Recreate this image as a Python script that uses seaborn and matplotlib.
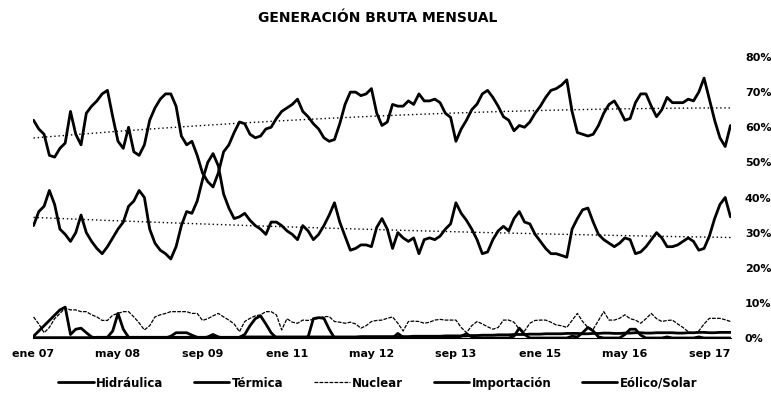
import numpy as np
import pandas as pd
import matplotlib.pyplot as plt
import seaborn as sns

# monthly share of gross generation (%), ene 07 .. ene 18
hidraulica = [62, 59.5, 58, 52, 51.5, 54, 55.5, 64.5, 58, 55, 64, 66,
              67.5, 69.5, 70.5, 63, 56, 54, 60, 53, 52, 55, 62, 65.5,
              68, 69.5, 69.5, 66, 57.5, 55, 56, 52, 47, 44.5, 43, 47,
              53, 55, 58.5, 61.5, 61, 58, 57, 57.5, 59.5, 60, 62.5, 64.5,
              65.5, 66.5, 68, 64.5, 63, 61, 59.5, 57, 56, 56.5, 61, 66.5,
              70, 70, 69, 69.5, 71, 64, 60.5, 61.5, 66.5, 66, 66, 67.5,
              66.5, 69.5, 67.5, 67.5, 68, 67, 64, 62.8, 56, 59.5, 62, 65,
              66.6, 69.5, 70.5, 68.5, 66, 63, 62, 59, 60.5, 60, 61.5, 64,
              66, 68.5, 70.5, 71, 72, 73.5, 64.5, 58.5, 58, 57.5, 58, 60.5,
              64, 66.5, 67.5, 65, 62, 62.5, 67, 69.5, 69.5, 66, 63, 65,
              68.5, 67, 67, 67, 68, 67.5, 70, 74, 68, 62, 57, 54.5,
              60.5]
termica = [32, 36, 37.5, 42, 38, 31, 29.5, 27.5, 30, 35, 30, 27.5,
           25.5, 24, 26, 28.5, 31, 33, 37.5, 39, 42, 40, 31, 27,
           25, 24, 22.5, 26, 32, 36, 35.5, 39, 45, 50, 52.5, 49,
           41, 37, 34, 34.5, 35.5, 33.5, 32, 31, 29.5, 33, 33, 32,
           30.5, 29.5, 28, 32, 30.5, 28, 29.5, 32, 35, 38.5, 33, 29,
           25, 25.5, 26.5, 26.5, 26, 31.5, 34, 31, 25.5, 30, 28.5, 27.5,
           28.5, 24, 28, 28.5, 28, 29, 31, 32.5, 38.5, 35.5, 33.5, 31,
           28, 24, 24.5, 28, 30.5, 31.8, 30.5, 34, 36, 33, 32.5, 29.5,
           27.5, 25.5, 24, 24, 23.5, 23, 31, 34, 36.5, 37, 33, 29.5,
           28, 27, 26, 27, 28.5, 28, 24, 24.5, 26, 28, 30, 28.5,
           26, 26, 26.5, 27.5, 28.5, 27.5, 25, 25.5, 29, 34, 38, 40,
           34.5]
nuclear = [6, 4, 1.5, 3, 5.5, 7, 8.5, 8, 8, 7.5, 7.5, 6.6,
           6, 5, 5, 6.5, 7, 7.5, 7.5, 6, 4.3, 2.3, 3.5, 6,
           6.6, 7, 7.5, 7.5, 7.5, 7.5, 7, 7, 5, 5.5, 6.3, 7,
           6, 5.1, 4, 1.8, 4.7, 5.6, 6.3, 6.6, 7.5, 7.5, 6.6, 2.3,
           5.5, 4.5, 4.2, 5.1, 5, 5.3, 5.6, 6.1, 6.1, 4.7, 4.5, 4.2,
           4.5, 4, 2.8, 3.5, 4.7, 5, 5.1, 5.6, 6, 4.2, 2, 4.7,
           4.8, 4.7, 4.2, 4.5, 5.1, 5.3, 5.1, 5.1, 5.1, 3, 1.5, 3.5,
           4.7, 4, 3.2, 2.5, 3, 5.1, 5.1, 4.5, 2.5, 2, 4.2, 5,
           5.1, 5.1, 4.5, 3.7, 3.5, 3, 5, 7, 4.7, 3, 2.5, 5,
           7.5, 5.1, 5.1, 5.6, 6.6, 5.5, 5.1, 4.2, 5.5, 7, 5.5, 4.7,
           5, 5.1, 4, 3, 1.8, 1.2, 2, 4, 5.6, 5.6, 5.6, 5.2,
           4.7]
importacion = [0.5, 2, 3.5, 5, 6.5, 8, 8.8, 1, 2.5, 2.8, 1.5, 0.3,
               0, 0, 0.2, 2, 7, 2.5, 0.2, 0, 0, 0, 0, 0,
               0, 0, 0.5, 1.5, 1.5, 1.5, 0.8, 0.2, 0, 0.3, 1, 0.3,
               0, 0, 0, 0.2, 1, 3.5, 5.5, 6.3, 4, 1.5, 0, 0,
               0, 0, 0, 0, 0.3, 5.5, 5.8, 5.6, 2.5, 0, 0, 0,
               0, 0, 0, 0, 0, 0, 0, 0, 0, 1.3, 0.2, 0,
               0, 0, 0, 0, 0, 0, 0, 0, 0, 0.5, 1.2, 0.3,
               0, 0, 0, 0, 0, 0, 0, 0.5, 2.8, 1, 0, 0,
               0, 0, 0, 0, 0, 0, 0.5, 0.3, 1.5, 3, 2, 0.3,
               0, 0, 0, 0, 1, 2.5, 2.5, 0.8, 0, 0, 0, 0,
               0.3, 0, 0, 0, 0, 0, 0.3, 0, 0, 0, 0, 0,
               0]
eolico_solar = [0.1, 0.1, 0.1, 0.1, 0.1, 0.1, 0.1, 0.1, 0.1, 0.1, 0.1, 0.1,
                0.2, 0.2, 0.2, 0.2, 0.2, 0.2, 0.2, 0.2, 0.2, 0.2, 0.2, 0.2,
                0.2, 0.2, 0.2, 0.2, 0.2, 0.2, 0.2, 0.2, 0.2, 0.2, 0.2, 0.2,
                0.2, 0.2, 0.2, 0.2, 0.3, 0.3, 0.3, 0.3, 0.3, 0.3, 0.3, 0.3,
                0.3, 0.3, 0.3, 0.3, 0.3, 0.3, 0.3, 0.3, 0.3, 0.3, 0.3, 0.3,
                0.3, 0.3, 0.4, 0.4, 0.4, 0.4, 0.4, 0.4, 0.4, 0.4, 0.4, 0.4,
                0.5, 0.5, 0.5, 0.5, 0.5, 0.5, 0.6, 0.6, 0.6, 0.6, 0.6, 0.7,
                0.7, 0.8, 0.8, 0.8, 0.9, 0.9, 0.9, 1.0, 1.0, 1.0, 1.1, 1.1,
                1.1, 1.2, 1.2, 1.2, 1.2, 1.3, 1.3, 1.3, 1.2, 1.2, 1.3, 1.3,
                1.4, 1.4, 1.3, 1.3, 1.4, 1.4, 1.5, 1.5, 1.4, 1.4, 1.5, 1.5,
                1.5, 1.5, 1.4, 1.4, 1.5, 1.5, 1.6, 1.6, 1.5, 1.5, 1.6, 1.6,
                1.6]

tick_labels = ['ene 07', 'may 08', 'sep 09', 'ene 11', 'may 12',
               'sep 13', 'ene 15', 'may 16', 'sep 17']
ytick_values = [0, 10, 20, 30, 40, 50, 60, 70, 80]

series = {
    'Hidráulica': hidraulica,
    'Térmica': termica,
    'Nuclear': nuclear,
    'Importación': importacion,
    'Eólico/Solar': eolico_solar,
}
idx = np.arange(len(hidraulica))
df = pd.DataFrame(series)
df['mes'] = idx

sns.set_style('white')
plt.rcParams['font.family'] = ['Liberation Sans Narrow', 'DejaVu Sans']
plt.rcParams['font.weight'] = 'bold'
plt.rcParams['text.color'] = 'black'
plt.rcParams['xtick.color'] = 'black'
plt.rcParams['ytick.color'] = 'black'

fig = plt.figure(figsize=(7.71, 4.05), dpi=100)
ax = fig.add_axes([33 / 771, 67 / 405, 698 / 771, 281 / 405])

for name in series:
    if name == 'Nuclear':
        sns.lineplot(data=df, x='mes', y=name, ax=ax, color='black', lw=0.9,
                     linestyle=(0, (3, 1)), label=name)
    else:
        sns.lineplot(data=df, x='mes', y=name, ax=ax, color='black', lw=2.0,
                     label=name)

# polynomial (order 2) trend lines for hydro and thermal
for name in ['Hidráulica', 'Térmica']:
    coef = np.polyfit(idx, df[name], 2)
    sns.lineplot(x=idx, y=np.polyval(coef, idx), ax=ax, color='black',
                 lw=1.0, linestyle=(0, (1, 2)), legend=False)

ax.set_xlim(-0.1, len(idx) - 0.9)
ax.set_ylim(0, 80)
ax.set_xticks(idx[::16][:len(tick_labels)])
ax.set_xticklabels(tick_labels)
ax.yaxis.tick_right()
ax.set_yticks(ytick_values)
ax.set_yticklabels([f'{v}%' for v in ytick_values])
ax.tick_params(axis='both', length=0, labelsize=8)
ax.tick_params(axis='x', pad=8)
ax.tick_params(axis='y', pad=10)
for lab in ax.get_yticklabels():
    lab.set_horizontalalignment('left')
ax.set_xlabel('')
ax.set_ylabel('')
for s in ['top', 'left', 'right']:
    ax.spines[s].set_visible(False)
ax.spines['bottom'].set_color('black')
ax.spines['bottom'].set_linewidth(0.8)

handles, labels = ax.get_legend_handles_labels()
ax.legend_.remove()
fig.legend(handles[:5], labels[:5], loc='center', bbox_to_anchor=(0.49, 0.054),
           ncol=5, frameon=False, fontsize=8.5, handlelength=3,
           handletextpad=0.2, columnspacing=2.6)

fig.text(0.49, 0.955, 'GENERACIÓN BRUTA MENSUAL', ha='center', va='center',
         fontsize=10, fontweight='bold')

fig.savefig('out.png', dpi=100)
